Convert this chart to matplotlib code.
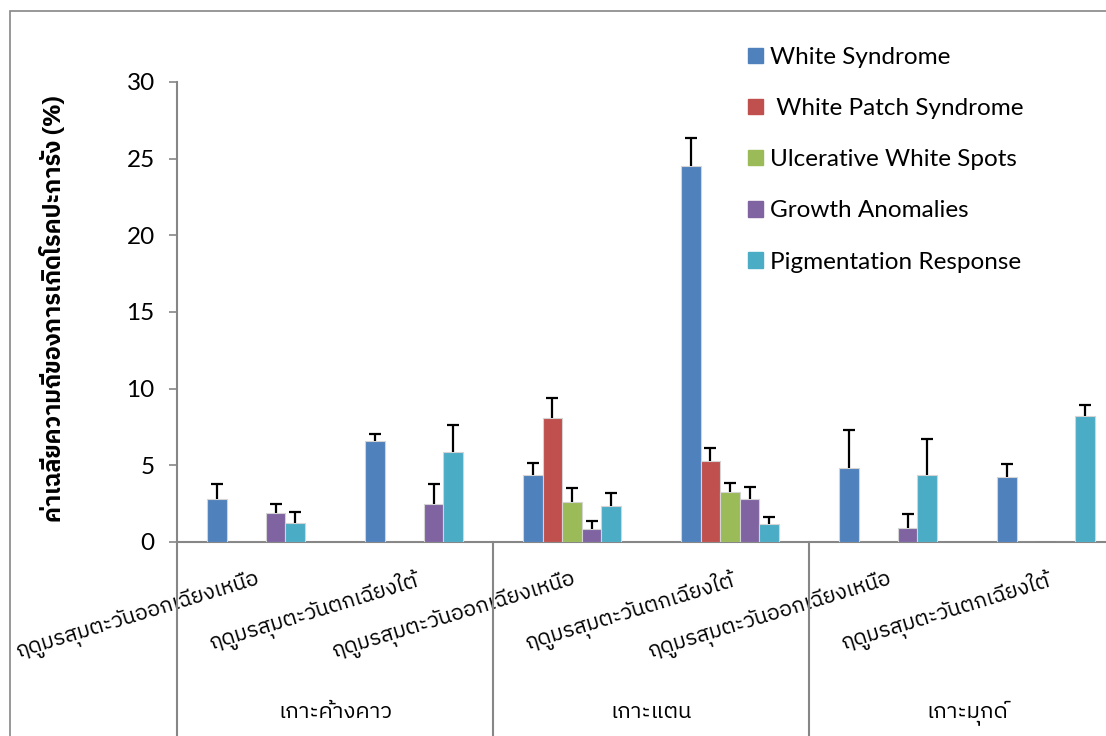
import numpy as np
import matplotlib
matplotlib.use('Agg')
import matplotlib.pyplot as plt
import matplotlib.transforms as mtransforms
from matplotlib import font_manager, ft2font
from matplotlib.patches import Rectangle, Patch

seasons = ['ฤดูมรสุมตะวันออกเฉียงเหนือ', 'ฤดูมรสุมตะวันตกเฉียงใต้'] * 3
islands = ['เกาะค้างคาว', 'เกาะแตน', 'เกาะมุกด์']
y_label = 'ค่าเฉลี่ยความถี่ของการเกิดโรคปะการัง (%)'
yticks = [0, 5, 10, 15, 20, 25, 30]

series_names = ['White Syndrome', ' White Patch Syndrome', 'Ulcerative White Spots',
                'Growth Anomalies', 'Pigmentation Response']
colors = ['#4F81BD', '#C0504D', '#9BBB59', '#8064A2', '#4BACC6']

white_syndrome = [2.8, 6.6, 4.4, 24.5, 4.8, 4.25]
white_syndrome_err = [1.0, 0.45, 0.75, 1.85, 2.5, 0.85]
white_patch = [0, 0, 8.1, 5.3, 0, 0]
white_patch_err = [0, 0, 1.3, 0.8, 0, 0]
ulcerative = [0, 0, 2.6, 3.25, 0, np.nan]
ulcerative_err = [0, 0, 0.9, 0.6, 0, 0]
growth = [1.9, 2.45, 0.85, 2.8, 0.9, 0]
growth_err = [0.6, 1.35, 0.5, 0.77, 0.9, 0]
pigment = [1.25, 5.85, 2.35, 1.2, 4.35, 8.25]
pigment_err = [0.7, 1.8, 0.85, 0.45, 2.4, 0.7]

values = [white_syndrome, white_patch, ulcerative, growth, pigment]
errors = [white_syndrome_err, white_patch_err, ulcerative_err, growth_err, pigment_err]


# ищем шрифт, в котором есть тайские буквы
def find_thai_font():
    found = []
    for f in font_manager.fontManager.ttflist:
        try:
            if 0x0E01 in ft2font.FT2Font(f.fname).get_charmap():
                found.append(f.name)
        except Exception:
            pass
    for name in found:
        if 'Sans' in name:
            return name
    if found:
        return found[0]
    return 'DejaVu Sans'


thai_font = [find_thai_font(), 'DejaVu Sans']
latin_font = ['Lato', 'DejaVu Sans']
grey = '#868686'

fig = plt.figure(figsize=(11.06, 7.36), dpi=100)
ax = fig.add_axes([177 / 1106, 194 / 736, 948 / 1106, 460 / 736])

x = np.arange(len(seasons))
w = 0.124
for i in range(len(values)):
    vals = np.array(values[i], dtype=float)
    errs = np.array(errors[i], dtype=float)
    xpos = x + (i - 2) * w
    ax.bar(xpos, vals, w, color=colors[i], edgecolor='#d4d4d4', linewidth=0.8,
           label=series_names[i], zorder=3)
    m = errs > 0
    ax.vlines(xpos[m], vals[m], vals[m] + errs[m], color='black', linewidth=1.6, zorder=4)
    ax.hlines(vals[m] + errs[m], xpos[m] - 0.038, xpos[m] + 0.038, color='black',
              linewidth=1.6, zorder=4)

ax.set_xlim(-0.5, 5.5)
ax.set_ylim(0, 30)
ax.set_yticks(yticks)
ax.set_yticklabels([str(t) for t in yticks], fontsize=17.5, family=latin_font)
ax.tick_params(axis='y', direction='out', length=6, width=1.2, color=grey, pad=10)
ax.set_xticks(x)
ax.set_xticklabels(seasons, rotation=17, ha='right', va='top', rotation_mode='anchor',
                   fontsize=15.5, family=thai_font)
ax.tick_params(axis='x', length=0, pad=18)

for s in ['top', 'right']:
    ax.spines[s].set_visible(False)
for s in ['left', 'bottom']:
    ax.spines[s].set_color(grey)
    ax.spines[s].set_linewidth(1.5)
    ax.spines[s].set_zorder(2)

trans = mtransforms.blended_transform_factory(ax.transData, ax.transAxes)
for xs in [-0.5, 1.5, 3.5, 5.5]:
    ax.plot([xs, xs], [0, -0.5], color=grey, linewidth=1.5, transform=trans, clip_on=False)
for k in range(len(islands)):
    ax.text(2 * k + 0.5, -0.37, islands[k], transform=trans, ha='center', va='center',
            fontsize=16, family=thai_font)

fig.text(53 / 1106, 1 - 309 / 736, y_label, rotation=90, ha='center', va='center',
         fontsize=17, fontweight='bold', family=thai_font)

handles = [Patch(color=colors[i]) for i in range(len(colors))]
ax.legend(handles, series_names, loc='upper left', bbox_to_anchor=(748 / 1106, 1 - 47 / 736),
          bbox_transform=fig.transFigure, frameon=False, handlelength=0.6, handleheight=0.6,
          handletextpad=0.3, labelspacing=1.24, borderpad=0, borderaxespad=0,
          prop={'family': latin_font, 'size': 17.5})

fig.patches.append(Rectangle((10 / 1106, -0.5), 2, 0.5 + 1 - 11 / 736, fill=False,
                             edgecolor=grey, linewidth=1.2, transform=fig.transFigure))

fig.savefig('out.png', dpi=100)
